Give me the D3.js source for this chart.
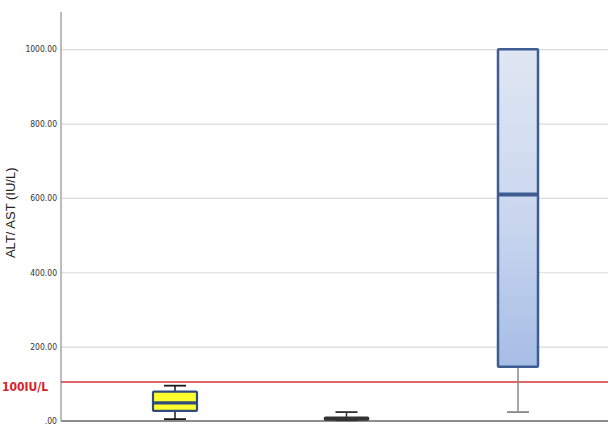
<!DOCTYPE html>
<html>
<head>
<meta charset="utf-8">
<script src="https://cdn.jsdelivr.net/npm/d3@7"></script>
<style>
  body { margin: 0; background: #fff; }
  svg { display: block; }
</style>
</head>
<body>
<svg id="chart" width="608" height="428"></svg>
<script>
// box plot values
const groups = ['Group 1', 'Group 2', 'Group 3']
const whiskLo = [5, 2, 24]
const q1 = [27, 3, 146]
const median = [49, 6, 609]
const q3 = [79, 10, 1000]
const whiskHi = [95, 24, 1000]
const yTicks = [0, 200, 400, 600, 800, 1000]
const limit = 105
const limitLabel = '100IU/L'
const yLabel = 'ALT/ AST (IU/L)'

const width = 608, height = 428
const margin = { left: 61, top: 12, bottom: 7 }

var svg = d3.select('#chart')

var y = d3.scaleLinear()
  .domain([0, 1100])
  .range([height - margin.bottom, margin.top])

var x = d3.scalePoint()
  .domain(groups)
  .range([175, 518])

const boxW = 44
const narrow = '"Liberation Sans Narrow", "Arial Narrow", "DejaVu Sans Condensed", sans-serif'

// gradient for the third box
var grad = svg.append('defs').append('linearGradient')
  .attr('id', 'blueFill')
  .attr('x1', 0).attr('y1', 0).attr('x2', 0).attr('y2', 1)
grad.append('stop').attr('offset', '0%').attr('stop-color', '#e0e7f3')
grad.append('stop').attr('offset', '55%').attr('stop-color', '#c9d6ee')
grad.append('stop').attr('offset', '100%').attr('stop-color', '#a6bde6')

// gridlines + tick labels
var yAxis = d3.axisLeft(y)
  .tickValues(yTicks)
  .tickSize(-(width - margin.left))
  .tickPadding(4)
  .tickFormat(d => d === 0 ? '.00' : d3.format('.2f')(d))

var gAxis = svg.append('g')
  .attr('transform', `translate(${margin.left},0)`)
  .call(yAxis)

gAxis.select('.domain').remove()
gAxis.selectAll('.tick line')
  .attr('stroke', '#dadada')
  .attr('stroke-width', 1.2)
gAxis.selectAll('.tick text')
  .attr('fill', '#333')
  .style('font-family', narrow)
  .style('font-size', '8.5px')

// axis lines
svg.append('line')
  .attr('x1', margin.left).attr('x2', margin.left)
  .attr('y1', margin.top).attr('y2', y(0))
  .attr('stroke', '#a6a6a6')
  .attr('stroke-width', 1.5)

svg.append('line')
  .attr('x1', margin.left).attr('x2', width)
  .attr('y1', y(0)).attr('y2', y(0))
  .attr('stroke', '#8c8c8c')
  .attr('stroke-width', 1.8)

// y axis title
svg.append('text')
  .attr('transform', `translate(15,${y(560)}) rotate(-90)`)
  .attr('text-anchor', 'middle')
  .attr('fill', '#222')
  .style('font-family', 'Liberation Sans, Arial, sans-serif')
  .style('font-size', '13px')
  .text(yLabel)

// reference line
svg.append('line')
  .attr('x1', margin.left).attr('x2', width)
  .attr('y1', y(limit)).attr('y2', y(limit))
  .attr('stroke', '#d8343a')
  .attr('stroke-width', 1.6)

svg.append('text')
  .attr('x', 2)
  .attr('y', y(limit) + 9)
  .attr('text-anchor', 'start')
  .attr('fill', '#d8232a')
  .style('font-family', narrow)
  .style('font-weight', 'bold')
  .style('font-size', '12px')
  .text(limitLabel)

// per-box styles
const boxStyle = [
  { fill: '#ffff2e', stroke: '#2f4b7c', whisk: '#1a1a1a', sw: 2.2, mw: 3.2 },
  { fill: '#cfd8e8', stroke: '#333333', whisk: '#333333', sw: 1.6, mw: 2 },
  { fill: 'url(#blueFill)', stroke: '#3e5d93', whisk: '#8a8a8a', sw: 2.5, mw: 4 }
]

var boxes = svg.append('g').selectAll('g')
  .data(groups).enter().append('g')

// whiskers
boxes.append('line')
  .attr('x1', d => x(d)).attr('x2', d => x(d))
  .attr('y1', (d, i) => y(whiskHi[i])).attr('y2', (d, i) => y(q3[i]))
  .attr('stroke', (d, i) => boxStyle[i].whisk)
  .attr('stroke-width', 1.5)

boxes.append('line')
  .attr('x1', d => x(d)).attr('x2', d => x(d))
  .attr('y1', (d, i) => y(q1[i])).attr('y2', (d, i) => y(whiskLo[i]))
  .attr('stroke', (d, i) => boxStyle[i].whisk)
  .attr('stroke-width', 1.5)

// whisker caps
boxes.append('line')
  .attr('x1', d => x(d) - 11).attr('x2', d => x(d) + 11)
  .attr('y1', (d, i) => y(whiskHi[i])).attr('y2', (d, i) => y(whiskHi[i]))
  .attr('stroke', (d, i) => boxStyle[i].whisk)
  .attr('stroke-width', (d, i) => whiskHi[i] === q3[i] ? 0 : 1.8)

boxes.append('line')
  .attr('x1', d => x(d) - 11).attr('x2', d => x(d) + 11)
  .attr('y1', (d, i) => y(whiskLo[i])).attr('y2', (d, i) => y(whiskLo[i]))
  .attr('stroke', (d, i) => boxStyle[i].whisk)
  .attr('stroke-width', 1.8)

// boxes
boxes.append('rect')
  .attr('x', (d, i) => x(d) - (i === 2 ? 20 : boxW / 2))
  .attr('width', (d, i) => i === 2 ? 40 : boxW)
  .attr('y', (d, i) => y(q3[i]))
  .attr('height', (d, i) => Math.max(1, y(q1[i]) - y(q3[i])))
  .attr('rx', 1)
  .attr('fill', (d, i) => boxStyle[i].fill)
  .attr('stroke', (d, i) => boxStyle[i].stroke)
  .attr('stroke-width', (d, i) => boxStyle[i].sw)

// medians
boxes.append('line')
  .attr('x1', (d, i) => x(d) - (i === 2 ? 20 : boxW / 2))
  .attr('x2', (d, i) => x(d) + (i === 2 ? 20 : boxW / 2))
  .attr('y1', (d, i) => y(median[i])).attr('y2', (d, i) => y(median[i]))
  .attr('stroke', (d, i) => boxStyle[i].stroke)
  .attr('stroke-width', (d, i) => boxStyle[i].mw)
</script>
</body>
</html>
